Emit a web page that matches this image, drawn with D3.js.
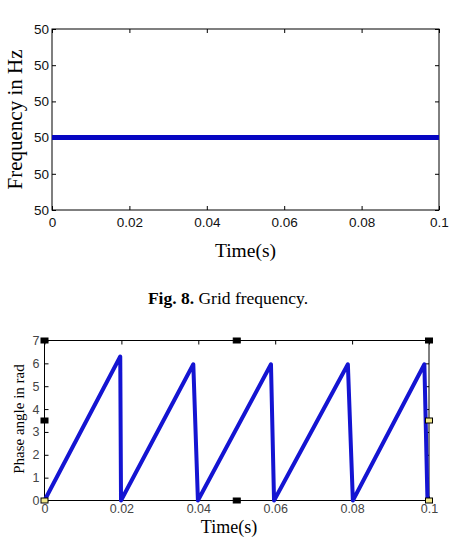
<!DOCTYPE html>
<html>
<head>
<meta charset="utf-8">
<script src="https://cdn.jsdelivr.net/npm/d3@7"></script>
<style>
  body { margin: 0; background: #fff; }
  svg { display: block; }
  .tick text { font-family: Arial, "Liberation Sans", sans-serif; }
  .serif { font-family: "Liberation Serif", "Times New Roman", serif; }
</style>
</head>
<body>
<div id="chart"></div>
<script>
// top chart: grid frequency
var freqTime = [0, 0.1];
var freqValue = [50, 50];
var freqYTicks = [49.9996, 49.9998, 50, 50.0002, 50.0004, 50.0006];
var freqYLabels = ["50", "50", "50", "50", "50", "50"];

// bottom chart: phase angle (sawtooth)
var phaseTime = [0, 0.0197, 0.0199, 0.0387, 0.0399, 0.0589, 0.0597, 0.0789, 0.0802, 0.0988, 0.0996];
var phaseValue = [0, 6.3, 0, 5.96, 0, 5.96, 0, 5.96, 0, 5.96, 0];
var phaseYTicks = [0, 1, 2, 3, 4, 5, 6, 7];

// shared x ticks
var timeTicks = [0, 0.02, 0.04, 0.06, 0.08, 0.1];
var timeLabels = ["0", "0.02", "0.04", "0.06", "0.08", "0.1"];

// selection handles on the lower plot
var handleTime = [0, 0.05, 0.1, 0, 0.1, 0, 0.05, 0.1];
var handleValue = [7, 7, 7, 3.5, 3.5, 0, 0, 0];
var handleLight = [false, false, false, false, true, true, false, true];

var W = 450, H = 548;
var svg = d3.select("#chart").append("svg")
    .attr("width", W)
    .attr("height", H);

function drawAxes(g, x, y, w, h, yTicks, yFormat, opts) {
    var xAxis = d3.axisBottom(x)
        .tickValues(timeTicks)
        .tickFormat(function (d, i) { return timeLabels[i]; })
        .tickSizeInner(-opts.tick)
        .tickSizeOuter(0)
        .tickPadding(opts.xpad);
    var yAxis = d3.axisLeft(y)
        .tickValues(yTicks)
        .tickFormat(yFormat)
        .tickSizeInner(-opts.tick)
        .tickSizeOuter(0)
        .tickPadding(opts.ypad);

    var gx = g.append("g").attr("transform", "translate(0," + h + ")").call(xAxis);
    var gy = g.append("g").call(yAxis);
    // mirrored ticks on top and right
    var gx2 = g.append("g").call(d3.axisTop(x).tickValues(timeTicks).tickFormat("").tickSizeInner(-opts.tick).tickSizeOuter(0));
    var gy2 = g.append("g").attr("transform", "translate(" + w + ",0)")
        .call(d3.axisRight(y).tickValues(yTicks).tickFormat("").tickSizeInner(-opts.tick).tickSizeOuter(0));

    [gx, gy, gx2, gy2].forEach(function (a) {
        a.select(".domain").remove();
        a.selectAll(".tick line").attr("stroke", "#000");
        a.selectAll(".tick text")
            .attr("font-size", opts.font)
            .attr("fill", opts.textColor);
    });

    g.append("rect")
        .attr("width", w)
        .attr("height", h)
        .attr("fill", "none")
        .attr("stroke", "#000")
        .attr("stroke-width", 1);
}

// ---------- top chart ----------
var m1 = {left: 52, top: 29, right: 439, bottom: 210};
var w1 = m1.right - m1.left, h1 = m1.bottom - m1.top;
var g1 = svg.append("g").attr("transform", "translate(" + m1.left + "," + m1.top + ")");

var x1 = d3.scaleLinear().domain([0, 0.1]).range([0, w1]);
var y1 = d3.scaleLinear().domain([49.9996, 50.0006]).range([h1, 0]);

drawAxes(g1, x1, y1, w1, h1, freqYTicks, function (d, i) { return freqYLabels[i]; },
    {tick: 4, xpad: 7, ypad: 3, font: 13.5, textColor: "#111"});

var line1 = d3.line()
    .x(function (d) { return x1(d[0]); })
    .y(function (d) { return y1(d[1]); });

g1.append("path")
    .datum(d3.zip(freqTime, freqValue))
    .attr("d", line1)
    .attr("fill", "none")
    .attr("stroke", "#0606c2")
    .attr("stroke-width", 5);

svg.append("text")
    .attr("class", "serif")
    .attr("x", m1.left + w1 / 2)
    .attr("y", 250)
    .attr("dy", "0.35em")
    .attr("text-anchor", "middle")
    .attr("font-size", 19.5)
    .text("Time(s)");

svg.append("text")
    .attr("class", "serif")
    .attr("transform", "translate(15," + (m1.top + h1 / 2) + ") rotate(-90)")
    .attr("dy", "0.35em")
    .attr("text-anchor", "middle")
    .attr("font-size", 21)
    .text("Frequency in Hz");

// caption
var cap = svg.append("text")
    .attr("class", "serif")
    .attr("x", 228)
    .attr("y", 298)
    .attr("dy", "0.35em")
    .attr("text-anchor", "middle")
    .attr("font-size", 17.5);
cap.append("tspan").attr("font-weight", "bold").text("Fig. 8.");
cap.append("tspan").text(" Grid frequency.");

// ---------- bottom chart ----------
var m2 = {left: 44.5, top: 340.5, right: 429, bottom: 500.5};
var w2 = m2.right - m2.left, h2 = m2.bottom - m2.top;
var g2 = svg.append("g").attr("transform", "translate(" + m2.left + "," + m2.top + ")");

var x2 = d3.scaleLinear().domain([0, 0.1]).range([0, w2]);
var y2 = d3.scaleLinear().domain([0, 7]).range([h2, 0]);

drawAxes(g2, x2, y2, w2, h2, phaseYTicks, d3.format("d"),
    {tick: 4, xpad: 4, ypad: 5, font: 12.5, textColor: "#444"});

var line2 = d3.line()
    .x(function (d) { return x2(d[0]); })
    .y(function (d) { return y2(d[1]); });

g2.append("path")
    .datum(d3.zip(phaseTime, phaseValue))
    .attr("d", line2)
    .attr("fill", "none")
    .attr("stroke", "#1414d2")
    .attr("stroke-width", 4)
    .attr("stroke-linejoin", "round");

g2.selectAll(".handle")
    .data(d3.range(handleTime.length))
    .enter().append("rect")
    .attr("class", "handle")
    .attr("x", function (i) { return x2(handleTime[i]) - 3.5; })
    .attr("y", function (i) { return y2(handleValue[i]) - 2.5; })
    .attr("width", 7)
    .attr("height", 5)
    .attr("fill", function (i) { return handleLight[i] ? "#f2e88a" : "#000"; })
    .attr("stroke", "#000")
    .attr("stroke-width", 1);

svg.append("text")
    .attr("class", "serif")
    .attr("x", 229)
    .attr("y", 527)
    .attr("dy", "0.35em")
    .attr("text-anchor", "middle")
    .attr("font-size", 18)
    .text("Time(s)");

svg.append("text")
    .attr("class", "serif")
    .attr("transform", "translate(18.5," + 419 + ") rotate(-90)")
    .attr("dy", "0.35em")
    .attr("text-anchor", "middle")
    .attr("font-size", 15)
    .text("Phase angle in rad");
</script>
</body>
</html>
